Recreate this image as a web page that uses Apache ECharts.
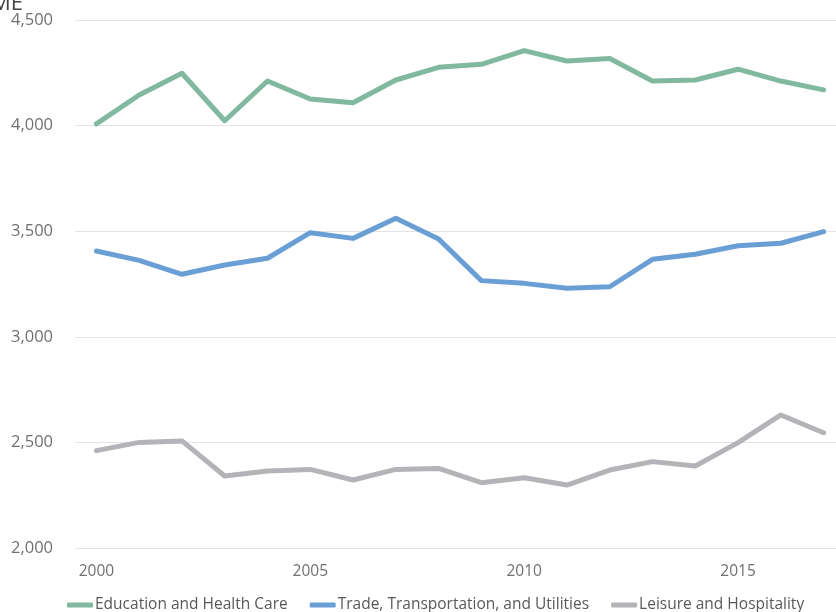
<!DOCTYPE html>
<html>
<head>
<meta charset="utf-8">
<script src="https://cdn.jsdelivr.net/npm/echarts@6/dist/echarts.min.js"></script>
<style>html,body{margin:0;padding:0;background:#fff}#c{width:836px;height:612px}</style>
</head>
<body>
<div id="c"></div>
<script>
const years = ['2000','2001','2002','2003','2004','2005','2006','2007','2008','2009','2010','2011','2012','2013','2014','2015','2016','2017'];
const eduHealth = [4008,4145,4248,4023,4211,4126,4108,4216,4276,4290,4355,4306,4318,4211,4216,4267,4211,4169];
const tradeTransUtil = [3406,3362,3296,3340,3372,3493,3466,3561,3463,3266,3253,3230,3237,3367,3391,3431,3443,3498];
const leisureHosp = [2461,2500,2507,2341,2365,2372,2322,2372,2377,2309,2333,2298,2369,2409,2388,2499,2630,2546];
const seriesNames = ['Education and Health Care','Trade, Transportation, and Utilities','Leisure and Hospitality'];
const colors = ['#80b8a0','#6a9fd6','#b3b4b8'];

const chart = echarts.init(document.getElementById('c'), null, {renderer:'canvas'});
const mk = (name, data, color) => ({
  name, type:'line', data, symbol:'none', smooth:false,
  lineStyle:{width:5, color, cap:'round', join:'round'}, itemStyle:{color}
});
chart.setOption({
  animation:false,
  color: colors,
  graphic:[{type:'text', left:-9, top:-7, style:{text:'ME', font:'22px "Open Sans"', fill:'#444'}}],
  grid:{left:75, top:20, width:770, height:528, outerBoundsMode:'none', containLabel:false},
  legend:{
    top:592, left:62, itemWidth:26, itemHeight:5, itemGap:22, icon:'roundRect',
    textStyle:{fontFamily:'"Open Sans"', fontSize:15.5, color:'#595959', padding:[0,0,0,-3]},
    data: seriesNames
  },
  xAxis:{
    type:'category', data:years, boundaryGap:true,
    axisLine:{show:false}, axisTick:{show:false},
    axisLabel:{interval:4, color:'#707070', fontFamily:'"Open Sans"', fontSize:15.5, margin:16}
  },
  yAxis:{
    type:'value', min:2000, max:4500, interval:500,
    axisLine:{show:false}, axisTick:{show:false},
    splitLine:{lineStyle:{color:'#e3e3e3', width:1}},
    axisLabel:{color:'#707070', fontFamily:'"Open Sans"', fontSize:16.5, margin:22,
      formatter: v => v.toLocaleString('en-US')}
  },
  series:[
    mk(seriesNames[0], eduHealth, colors[0]),
    mk(seriesNames[1], tradeTransUtil, colors[1]),
    mk(seriesNames[2], leisureHosp, colors[2])
  ]
});
</script>
</body>
</html>
